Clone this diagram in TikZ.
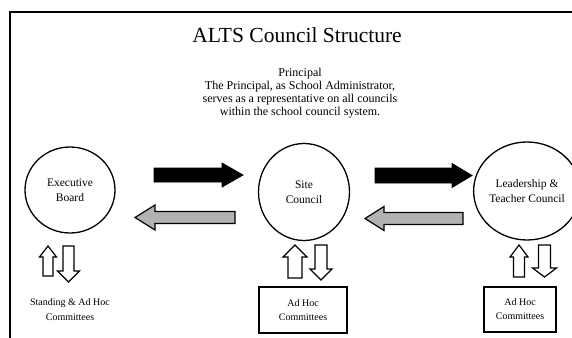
\documentclass[tikz,border=0pt]{standalone}
\usepackage{fontspec}
\setmainfont{Liberation Serif}
\usetikzlibrary{shapes.geometric}
\newcommand\harrowshape[7]{% style, tail x, head-base x, tip x, y, shaft half, head half
  \draw[#1] (#2,#5-#6) -- (#3,#5-#6) -- (#3,#5-#7) -- (#4,#5) -- (#3,#5+#7) -- (#3,#5+#6) -- (#2,#5+#6) -- cycle;}
\newcommand\varrowshape[7]{% style, tail y, head-base y, tip y, x, shaft half, head half
  \draw[#1] (#5-#6,#2) -- (#5-#6,#3) -- (#5-#7,#3) -- (#5,#4) -- (#5+#7,#3) -- (#5+#6,#3) -- (#5+#6,#2) -- cycle;}
\tikzset{
  council/.style={draw, ellipse, line width=1.3pt, inner sep=0pt, align=center, font=\fontsize{11.5}{14.5}\selectfont},
  cbox/.style={draw, rectangle, line width=1.5pt, inner sep=0pt, align=center, font=\fontsize{10}{14}\selectfont},
  blackarrow/.style={fill=black, draw=black, line width=0.8pt},
  grayarrow/.style={fill=black!30, draw=black, line width=1.2pt},
  hollowarrow/.style={fill=white, draw=black, line width=1.2pt},
}
\begin{document}
\begin{tikzpicture}[x=1pt,y=-1pt]
\useasboundingbox (0,0) rectangle (572,337);
\clip (0,0) rectangle (572,337);
% frame
\draw[line width=2pt] (10,345) -- (10,12) -- (580,12);
% title
\node (title) at (297,35) {\fontsize{21.5}{25}\selectfont ALTS Council Structure};
\node[align=center, font=\fontsize{12}{13.2}\selectfont] (principal) at (300,93)
  {Principal\\The Principal, as School Administrator,\\serves as a representative on all councils\\within the school council system.};
% councils
\node[council, minimum width=90pt, minimum height=86pt] (exec) at (70,190) {Executive\\Board};
\node[council, minimum width=91pt, minimum height=97pt] (site) at (304,192) {Site\\Council};
\node[council, minimum width=87pt, minimum height=98pt] (lead) at (527,191) {Leadership \&\\Teacher Council};
% committees
\node[align=center, font=\fontsize{10}{15}\selectfont] (stand) at (70,310) {Standing \& Ad Hoc\\Committees};
\node[cbox, minimum width=88pt, minimum height=46pt] (sitebox) at (303,310) {Ad Hoc\\Committees};
\node[cbox, minimum width=72pt, minimum height=45pt] (leadbox) at (520,309.5) {Ad Hoc\\Committees};
% horizontal arrows
\harrowshape{blackarrow}{154}{222}{243}{175}{7}{12}
\harrowshape{blackarrow}{375}{452}{472}{175.5}{7.5}{12}
\harrowshape{grayarrow}{235}{155}{135}{217.5}{6}{12.5}
\harrowshape{grayarrow}{463}{384}{365}{218.5}{6}{12}
% vertical arrows
\varrowshape{hollowarrow}{276}{257}{246}{48}{5}{8.5}
\varrowshape{hollowarrow}{246}{271}{282}{68.5}{5.5}{11}
\varrowshape{hollowarrow}{278}{257}{245}{295}{7}{12}
\varrowshape{hollowarrow}{245}{269}{280}{321}{6}{11}
\varrowshape{hollowarrow}{277}{257}{245}{519}{5.5}{9}
\varrowshape{hollowarrow}{245}{268}{277}{544.5}{6}{12}
\end{tikzpicture}
\end{document}
